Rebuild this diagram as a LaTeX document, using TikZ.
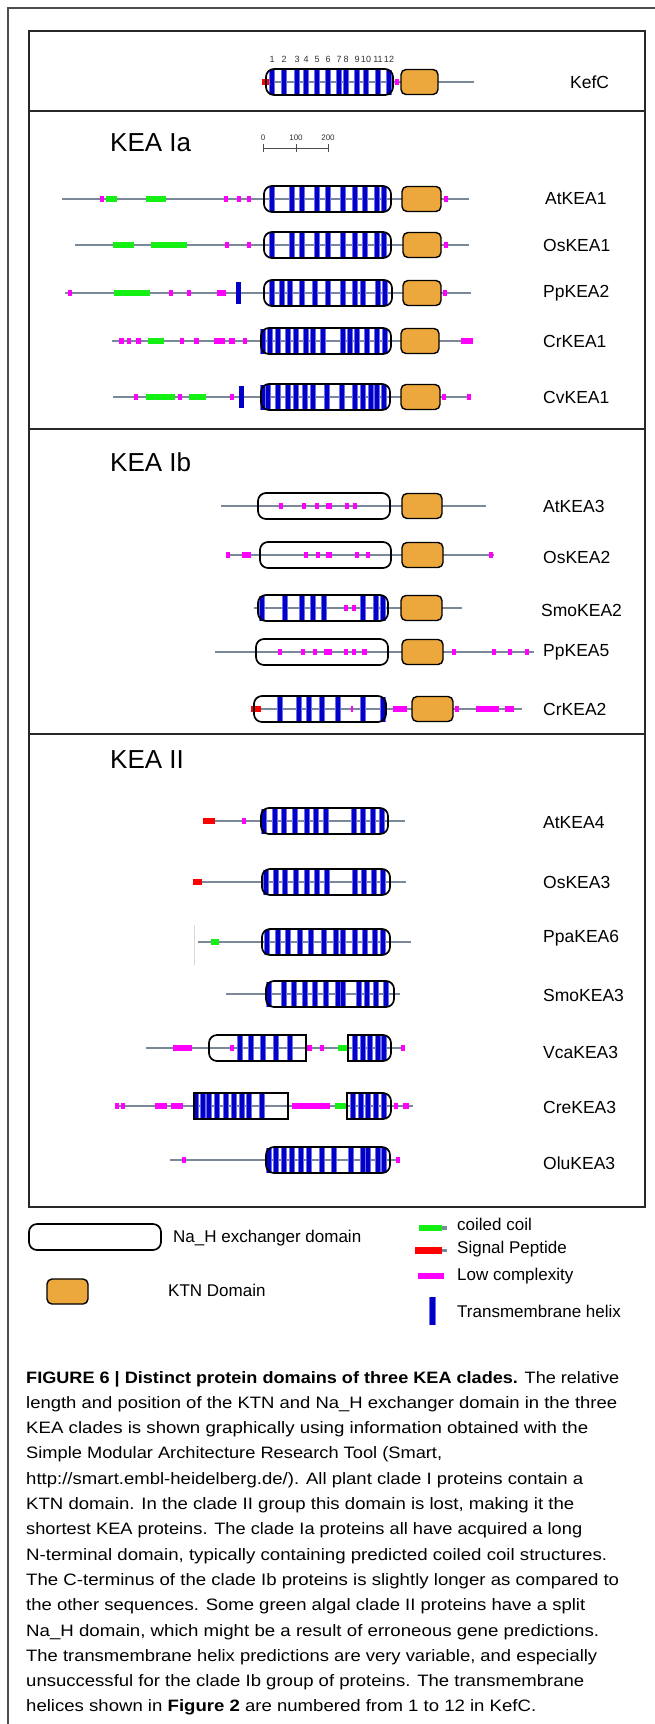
\documentclass[tikz,border=0pt]{standalone}
\usepackage{fontspec}
\setmainfont{Liberation Sans}
\usepackage{graphicx}
\definecolor{bbgray}{RGB}{122,136,153}
\definecolor{ktnorange}{RGB}{236,168,60}
\definecolor{tmblue}{RGB}{0,0,200}
\definecolor{tmlight}{RGB}{110,110,235}
\definecolor{lcmag}{RGB}{255,0,255}
\definecolor{ccgreen}{RGB}{20,240,20}
\definecolor{spred}{RGB}{255,0,0}
\definecolor{framegray}{RGB}{40,40,40}
\newcommand\bbl[3]{\draw[bb] (#2,#1) -- (#3,#1);}
\newcommand\nahB[3]{\draw[nahbox,rounded corners=8pt] (#2,#1-13) rectangle (#3,#1+13);}
\newcommand\nahL[3]{\draw[nahbox] (#3,#1-13) -- (#3,#1+13) [rounded corners=8pt] -- (#2,#1+13) -- (#2,#1-13) [sharp corners] -- cycle;}
\newcommand\nahR[3]{\draw[nahbox] (#2,#1+13) -- (#2,#1-13) [rounded corners=8pt] -- (#3,#1-13) -- (#3,#1+13) [sharp corners] -- cycle;}
\newcommand\nahS[3]{\draw[nahbox] (#2,#1-13) rectangle (#3,#1+13);}
\newcommand\ktnb[3]{\draw[ktnbox] (#2,#1-12.5) rectangle (#3,#1+12.5);}
\newcommand\tms[2]{\foreach \xx in {#2}{\fill[tmlight] (\xx-3,#1-12.5) rectangle (\xx+3,#1+12.5);\fill[tmblue] (\xx-2,#1-12.5) rectangle (\xx+2,#1+12.5);}}
\newcommand\segs[3]{\foreach \pa/\pb in {#3}{\fill[#2] (\pa,#1-2.7) rectangle (\pb,#1+2.7);}}
\newcommand\capln[4]{\node[capt] (#1) at (26,#2) {\resizebox{#3pt}{\height}{#4}};}
\begin{document}
\begin{tikzpicture}[x=1pt,y=-1pt,
  bb/.style={draw=bbgray,line width=2.6pt},
  nahbox/.style={draw=black,line width=1.7pt},
  ktnbox/.style={draw=black,fill=ktnorange,line width=1.4pt,rounded corners=5pt},
  lbl/.style={anchor=west,inner sep=0pt,font=\fontsize{17.5}{20}\selectfont},
  ttl/.style={anchor=west,inner sep=0pt,font=\fontsize{26}{28}\selectfont},
  leg/.style={anchor=west,inner sep=0pt,font=\fontsize{17}{20}\selectfont},
  num/.style={inner sep=0pt,font=\fontsize{9}{10}\selectfont,text=black!80},
  capt/.style={anchor=base west,inner sep=0pt,font=\fontsize{16.5}{20}\selectfont},
  frm/.style={draw=framegray,line width=1.8pt}]
\useasboundingbox (0,0) rectangle (655,1724);
\fill[white] (0,0) rectangle (655,1724);
% frames
\draw[draw=black!70,line width=1.2pt] (655,8) -- (8,8) -- (8,1724);
\draw[frm] (29,31) rectangle (645,1207);
\draw[frm] (29,111) -- (645,111);
\draw[frm] (29,429) -- (645,429);
\draw[frm] (29,734) -- (645,734);
% KefC
\bbl{82}{264}{474}
\segs{82}{spred}{262/272}
\segs{82}{lcmag}{395/399}
\tms{82}{272,284,297,306,317,328,339,346,357,366,378,389}
\nahB{82}{266}{393}
\ktnb{82}{401}{438}
\foreach \xx/\nn in {272/1,284/2,297/3,306/4,317/5,328/6,339/7,346/8,357/9,366/10,378/11,389/12}
  {\node[num] (n\nn) at (\xx,59) {\nn};}
\node[lbl] (KefC) at (570,82) {KefC};
% titles and scale
\node[ttl] (tIa) at (110,143) {KEA Ia};
\node[ttl] (tIb) at (110,462) {KEA Ib};
\node[ttl] (tII) at (110,760) {KEA II};
\draw[black!70,line width=0.8pt] (263,148) -- (328,148);
\foreach \xx/\nn in {263/0,296/100,328/200}{
  \draw[black!70,line width=0.8pt] (\xx,144) -- (\xx,152);
  \node[num,font=\fontsize{8}{9}\selectfont] (s\nn) at (\xx,138) {\nn};}
% AtKEA1
\bbl{199}{62}{469}
\segs{199}{lcmag}{100/104,224/228,237/241,247/251,444/448}
\segs{199}{ccgreen}{106/117,146/166}
\tms{199}{272,292,302,317,328,343,355,365,377,384}
\nahB{199}{264}{391}
\ktnb{199}{402}{441}
\node[lbl] (AtKEA1) at (545,199) {AtKEA1};
% OsKEA1
\bbl{245}{75}{469}
\segs{245}{ccgreen}{113/134,151/187}
\segs{245}{lcmag}{225/229,247/251,444/448}
\tms{245}{272,292,302,317,328,343,355,365,377,384}
\nahB{245}{264}{391}
\ktnb{245}{403}{441}
\node[lbl] (OsKEA1) at (543,245) {OsKEA1};
% PpKEA2
\bbl{293}{65}{471}
\segs{293}{lcmag}{68/72,169/173,187/191,217/226,443/447}
\segs{293}{ccgreen}{114/150}
\fill[tmblue] (236,282) rectangle (241,304);
\tms{293}{272,282,290,302,315,328,343,355,363,378,385}
\nahB{293}{264}{392}
\ktnb{293}{403}{441}
\node[lbl] (PpKEA2) at (543,293) {PpKEA2};
% CrKEA1
\bbl{341}{112}{473}
\segs{341}{lcmag}{119/124,127/131,136/141,180/184,194/199,214/225,229/235,243/247,461/473}
\segs{341}{ccgreen}{148/164}
\tms{341}{263,270,278,288,296,306,313,323,343,350,357,367,377,385}
\nahB{341}{261}{391}
\ktnb{341}{401}{439}
\node[lbl] (CrKEA1) at (543,341) {CrKEA1};
% CvKEA1
\bbl{397}{113}{471}
\segs{397}{lcmag}{134/138,178/182,230/234,442/446,467/471}
\segs{397}{ccgreen}{146/175,189/206}
\fill[tmblue] (239,386) rectangle (244,408);
\tms{397}{263,268,278,288,296,305,313,327,342,355,363,371,377,384}
\nahB{397}{261}{390}
\ktnb{397}{401}{440}
\node[lbl] (CvKEA1) at (543,397) {CvKEA1};
% AtKEA3
\bbl{506}{221}{486}
\segs{506}{lcmag}{279/283,302/306,315/319,326/332,345/349,353/357}
\nahB{506}{258}{390}
\ktnb{506}{402}{442}
\node[lbl] (AtKEA3) at (543,506) {AtKEA3};
% OsKEA2
\bbl{555}{226}{494}
\segs{555}{lcmag}{226/230,242/251,304/308,316/320,326/332,355/359,366/370,489/493}
\nahB{555}{260}{391}
\ktnb{555}{402}{443}
\node[lbl] (OsKEA2) at (543,557) {OsKEA2};
% SmoKEA2
\bbl{608}{254}{462}
\segs{608}{lcmag}{344/348,352/356}
\tms{608}{262,285,302,313,324,363,376,383}
\nahB{608}{258}{388}
\ktnb{608}{401}{442}
\node[lbl] (SmoKEA2) at (541,610) {SmoKEA2};
% PpKEA5
\bbl{652}{215}{534}
\segs{652}{lcmag}{278/282,301/305,313/317,324/332,344/348,352/356,362/367,452/456,492/496,508/512,525/529}
\nahB{652}{256}{388}
\ktnb{652}{402}{443}
\node[lbl] (PpKEA5) at (543,652) {PpKEA5};
% CrKEA2
\bbl{709}{251}{522}
\segs{709}{spred}{251/261}
\segs{709}{lcmag}{351/353,393/407,455/459,476/499,505/514}
\tms{709}{280,299,309,322,338,363,383}
\nahB{709}{254}{386}
\ktnb{709}{412}{453}
\node[lbl] (CrKEA2) at (543,709) {CrKEA2};
% AtKEA4
\bbl{821}{203}{405}
\segs{821}{spred}{203/215}
\segs{821}{lcmag}{242/246}
\tms{821}{264,275,284,295,307,316,326,354,363,373,382}
\nahB{821}{261}{388}
\node[lbl] (AtKEA4) at (543,823) {AtKEA4};
% OsKEA3
\bbl{882}{193}{406}
\segs{882}{spred}{193/202}
\tms{882}{266,276,285,296,307,317,327,355,364,374,383}
\nahB{882}{262}{390}
\node[lbl] (OsKEA3) at (543,882) {OsKEA3};
% PpaKEA6
\bbl{942}{198}{411}
\draw[black!15,line width=0.6pt] (194,925) -- (194,965);
\segs{942}{ccgreen}{211/219}
\tms{942}{267,278,288,300,311,324,336,343,355,365,375,383}
\nahB{942}{262}{390}
\node[lbl] (PpaKEA6) at (543,938) {PpaKEA6};
% SmoKEA3
\bbl{994}{226}{400}
\tms{994}{269,284,294,305,315,326,338,343,359,367,376,386}
\nahB{994}{266}{394}
\node[lbl] (SmoKEA3) at (543,995) {SmoKEA3};
% VcaKEA3
\bbl{1048}{146}{403}
\segs{1048}{lcmag}{173/192,230/234,307/312,320/324,401/405}
\segs{1048}{ccgreen}{338/347}
\tms{1048}{240,251,263,276,290,355,363,370,378,384}
\nahL{1048}{209}{306}
\nahR{1048}{348}{391}
\node[lbl] (VcaKEA3) at (543,1052) {VcaKEA3};
% CreKEA3
\bbl{1106}{115}{413}
\segs{1106}{lcmag}{115/119,121/125,155/167,171/183,292/330,394/398,403/409}
\segs{1106}{ccgreen}{335/347}
\tms{1106}{196,203,209,217,226,234,242,249,262,353,361,368,376,384}
\nahS{1106}{194}{288}
\nahR{1106}{347}{391}
\node[lbl] (CreKEA3) at (543,1107) {CreKEA3};
% OluKEA3
\bbl{1160}{170}{399}
\segs{1160}{lcmag}{182/186,396/400}
\tms{1160}{269,276,284,292,301,309,322,334,351,363,368,378,384}
\nahB{1160}{266}{390}
\node[lbl] (OluKEA3) at (543,1163) {OluKEA3};
% legend
\draw[nahbox,rounded corners=8pt] (29,1224) rectangle (161,1250);
\node[leg] (lNaH) at (173,1238) {Na\_H exchanger domain};
\draw[ktnbox] (47,1279) rectangle (88,1304);
\node[leg] (lKTN) at (168,1290) {KTN Domain};
\fill[ccgreen] (419,1225) rectangle (442,1231);
\fill[bbgray] (442,1226) rectangle (447,1230);
\node[leg] (lCC) at (457,1224) {coiled coil};
\fill[spred] (415,1247) rectangle (442,1254);
\fill[bbgray] (442,1249) rectangle (447,1252);
\node[leg] (lSP) at (457,1249) {Signal Peptide};
\fill[lcmag] (418,1273) rectangle (444,1279);
\node[leg] (lLC) at (457,1276) {Low complexity};
\fill[tmlight] (429,1297) rectangle (436,1325);
\fill[tmblue] (430,1297) rectangle (435,1325);
\node[leg] (lTM) at (457,1311) {Transmembrane helix};
% caption
\capln{c1}{1383}{593}{\textbf{FIGURE 6 | Distinct protein domains of three KEA clades.} The relative}
\capln{c2}{1408.3}{591}{length and position of the KTN and Na\_H exchanger domain in the three}
\capln{c3}{1433.6}{562}{KEA clades is shown graphically using information obtained with the}
\capln{c4}{1458.9}{416}{Simple Modular Architecture Research Tool (Smart,}
\capln{c5}{1484.2}{557}{http://smart.embl-heidelberg.de/). All plant clade I proteins contain a}
\capln{c6}{1509.5}{548}{KTN domain. In the clade II group this domain is lost, making it the}
\capln{c7}{1534.8}{556}{shortest KEA proteins. The clade Ia proteins all have acquired a long}
\capln{c8}{1560.1}{581}{N-terminal domain, typically containing predicted coiled coil structures.}
\capln{c9}{1585.4}{593}{The C-terminus of the clade Ib proteins is slightly longer as compared to}
\capln{c10}{1610.7}{559}{the other sequences. Some green algal clade II proteins have a split}
\capln{c11}{1636}{573}{Na\_H domain, which might be a result of erroneous gene predictions.}
\capln{c12}{1661.3}{571}{The transmembrane helix predictions are very variable, and especially}
\capln{c13}{1686.6}{558}{unsuccessful for the clade Ib group of proteins. The transmembrane}
\capln{c14}{1711.9}{510}{helices shown in \textbf{Figure 2} are numbered from 1 to 12 in KefC.}
\end{tikzpicture}
\end{document}
